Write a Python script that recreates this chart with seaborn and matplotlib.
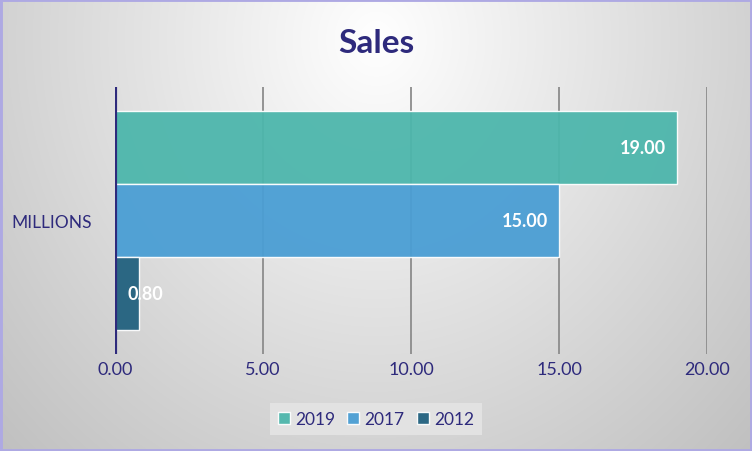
import numpy as np
import pandas as pd
import seaborn as sns
import matplotlib.pyplot as plt
from matplotlib.patches import Rectangle

sns.set_theme(style="white")
plt.rcParams['font.family'] = ['Lato', 'DejaVu Sans']

# data
categories = ["MILLIONS"]
years = ["2019", "2017", "2012"]
values = [19.00, 15.00, 0.80]
colors = ["#4db6ac", "#4a9ed4", "#22617f"]
navy = "#2e2a7c"

df = pd.DataFrame({"category": categories * len(years), "year": years, "value": values})

W, H = 752, 452
fig = plt.figure(figsize=(W / 100, H / 100), dpi=100)

# radial grey background
bg = fig.add_axes([0, 0, 1, 1], zorder=-10)
xx, yy = np.meshgrid(np.arange(W), np.arange(H))
r = np.sqrt(((xx - 376) / 470) ** 2 + ((yy - 40) / 520) ** 2)
v = 1 - 0.22 * np.clip(r, 0, 1.25)
bg.imshow(np.dstack([v, v, v]), aspect="auto", extent=[0, 1, 0, 1])
bg.set_axis_off()

ax = fig.add_axes([115 / W, 1 - 355 / H, (707 - 115) / W, (355 - 88) / H])
ax.set_facecolor("none")

sns.barplot(data=df, x="value", y="category", hue="year", hue_order=years,
            palette=colors, saturation=1, orient="h", width=0.82, alpha=0.95,
            edgecolor="white", linewidth=1, ax=ax, zorder=3)

ax.set_xlim(0, 20)
ax.set_xticks([0, 5, 10, 15, 20])
ax.set_xticklabels([f"{t:.2f}" for t in [0, 5, 10, 15, 20]])
ax.xaxis.grid(True, color="#8c8c8c", lw=1.3, zorder=0)
ax.set_axisbelow(True)
for s in ax.spines.values():
    s.set_visible(False)
ax.axvline(0, color=navy, lw=3, zorder=5)
ax.tick_params(axis="x", length=0, pad=5, labelsize=13, labelcolor=navy)
ax.tick_params(axis="y", length=0, pad=17, labelsize=12.5, labelcolor=navy)
ax.set_xlabel("")
ax.set_ylabel("")

# data labels (inside end)
for p in ax.patches:
    w = p.get_width()
    if w <= 0:
        continue
    yc = p.get_y() + p.get_height() / 2
    if w < 2:
        ax.annotate(f"{w:.2f}", (0, yc), xytext=(9, 0), textcoords="offset points",
                    ha="left", va="center", color="white", fontsize=13,
                    fontweight="bold", zorder=6)
    else:
        ax.annotate(f"{w:.2f}", (w, yc), xytext=(-8, 0), textcoords="offset points",
                    ha="right", va="center", color="white", fontsize=13,
                    fontweight="bold", zorder=6)

fig.text(376 / W, 1 - 53 / H, "Sales", ha="center", va="baseline",
         fontsize=24, fontweight="bold", color=navy)

leg = ax.legend(loc="center", bbox_to_anchor=(376 / W, 1 - 420 / H),
                bbox_transform=fig.transFigure, ncol=3, frameon=True,
                fontsize=12.5, handlelength=0.7, handleheight=0.7,
                handletextpad=0.3, columnspacing=0.7, borderpad=0.45,
                fancybox=False)
leg.get_frame().set_facecolor("#e4e4e4")
leg.get_frame().set_edgecolor("none")
leg.get_frame().set_alpha(0.9)
for t in leg.get_texts():
    t.set_color(navy)
for h in leg.legend_handles:
    h.set_edgecolor("white")

fig.patches.append(Rectangle((0, 0), 1, 1, transform=fig.transFigure,
                             fill=False, edgecolor="#aea9e3", lw=3.5))

fig.savefig("out.png", dpi=100)
